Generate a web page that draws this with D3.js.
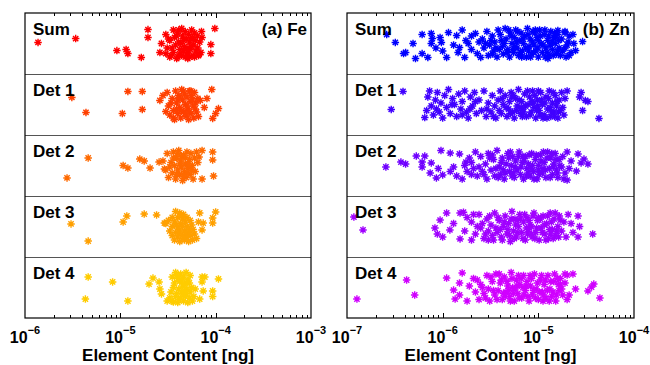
<!DOCTYPE html>
<html>
<head>
<meta charset="utf-8">
<script src="https://cdn.jsdelivr.net/npm/d3@7"></script>
<style>
body{margin:0;background:#fff}
text{font-family:Arial,"Liberation Sans",sans-serif;font-weight:bold;fill:#000}
</style>
</head>
<body>
<svg id="chart" width="650" height="365"></svg>
<script>
// row names, top to bottom
const rows = ["Sum", "Det 1", "Det 2", "Det 3", "Det 4"];
const feColors = ["#ff0000", "#ff4000", "#ff6a00", "#ffa000", "#ffcc00"];
const znColors = ["#0000ff", "#4000ff", "#7000ff", "#a000ff", "#d000ff"];
const feTicks = [1e-6, 1e-5, 1e-4, 1e-3];
const znTicks = [1e-7, 1e-6, 1e-5, 1e-4];

// each point: [content in ng, vertical jitter -1..1]
const feSum = [[1.37e-6,-0.07],[3.4e-6,-0.33],[9.2e-6,0.47],[1.15e-5,0.4],[1.2e-5,0.67],[1.66e-5,0.93],[1.95e-5,-0.93],[1.95e-5,-0.4],[2.6e-5,0.6],[3.0e-5,0.67],[2.7e-5,0.0],[9.8e-5,-1.0],[8.9e-5,0.07],[8.9e-5,0.67],[7.1e-5,-0.8],[7.2e-5,-0.4],[6.7e-5,0.73],
  [3.0e-5,-0.6],[3.3e-5,-0.2],[3.1e-5,0.3],[3.4e-5,0.8],[3.6e-5,-0.9],[3.7e-5,-0.4],[3.8e-5,0.1],[3.6e-5,0.6],[3.9e-5,1.0],[4.0e-5,-0.7],[4.1e-5,-0.1],[4.2e-5,0.4],[4.0e-5,0.9],[4.4e-5,-1.0],[4.5e-5,-0.5],[4.3e-5,0.0],[4.6e-5,0.5],[4.4e-5,0.8],[4.8e-5,-0.8],[4.9e-5,-0.3],[4.7e-5,0.2],[5.0e-5,0.7],[5.1e-5,1.0],[5.2e-5,-0.6],[5.3e-5,-0.1],[5.4e-5,0.4],[5.1e-5,0.6],[5.6e-5,-0.9],[5.7e-5,-0.4],[5.5e-5,0.2],[5.8e-5,0.8],[6.0e-5,-0.7],[6.1e-5,-0.2],[6.2e-5,0.5],[6.0e-5,0.9],[6.4e-5,-0.5],[6.5e-5,0.3],[6.6e-5,0.8],[3.5e-5,0.3],[3.9e-5,-0.5],[4.6e-5,-0.2],[5.0e-5,0.3],[5.5e-5,-0.3],[4.2e-5,0.7],[3.3e-5,0.9],[5.9e-5,0.1],[4.8e-5,0.9],[4.1e-5,-0.9],[5.3e-5,0.9],[3.2e-5,-0.3],[6.8e-5,-0.1],[7.0e-5,0.6]];
const feDet1 = [[3.1e-6,-0.47],[4.36e-6,0.53],[1.05e-5,0.6],[1.2e-5,-0.87],[1.7e-5,-0.87],[1.7e-5,0.33],[2.6e-5,-0.27],[2.8e-5,-0.6],[3.0e-5,0.47],[9.1e-5,-1.0],[8.1e-5,-0.4],[7.6e-5,0.2],[1.07e-4,0.27],[1.0e-4,0.6],[9.3e-5,0.93],[6.9e-5,-0.27],
  [3.1e-5,-0.8],[3.2e-5,0.1],[3.3e-5,0.7],[3.5e-5,-0.4],[3.6e-5,0.4],[3.7e-5,1.0],[3.8e-5,-0.9],[3.9e-5,-0.1],[4.0e-5,0.6],[4.1e-5,-0.6],[4.2e-5,0.2],[4.3e-5,0.9],[4.4e-5,-1.0],[4.5e-5,-0.3],[4.6e-5,0.5],[4.7e-5,-0.7],[4.8e-5,0.0],[4.9e-5,0.8],[5.0e-5,-0.5],[5.1e-5,0.3],[5.2e-5,1.0],[5.3e-5,-0.9],[5.4e-5,-0.2],[5.5e-5,0.6],[5.6e-5,-0.6],[5.8e-5,0.1],[5.9e-5,0.9],[6.0e-5,-0.8],[6.2e-5,-0.1],[6.3e-5,0.5],[6.5e-5,-0.4],[6.6e-5,0.8],[3.4e-5,-0.1],[4.0e-5,-0.3],[4.4e-5,0.4],[5.0e-5,0.1],[5.7e-5,-0.3],[4.6e-5,-0.9],[3.6e-5,0.9],[5.3e-5,0.5],[4.2e-5,-0.5],[6.1e-5,0.3],[4.8e-5,0.6],[3.9e-5,0.3],[5.5e-5,-0.9]];
const feDet2 = [[2.76e-6,0.83],[4.6e-6,-0.5],[1.07e-5,0.0],[1.2e-5,0.17],[1.6e-5,-0.43],[1.78e-5,-0.3],[2.05e-5,0.17],[2.55e-5,-0.23],[2.9e-5,0.23],[7.2e-5,-1.0],[9.3e-5,-0.9],[9.3e-5,-0.37],[9.5e-5,0.7],[7.2e-5,0.9],[6.7e-5,-0.57],
  [2.8e-5,-0.3],[3.0e-5,0.3],[3.1e-5,-0.8],[3.2e-5,0.8],[3.4e-5,-0.2],[3.5e-5,0.5],[3.6e-5,-0.9],[3.7e-5,0.0],[3.8e-5,0.9],[3.9e-5,-0.5],[4.0e-5,0.3],[4.1e-5,-1.0],[4.2e-5,0.6],[4.3e-5,-0.3],[4.4e-5,0.1],[4.5e-5,1.0],[4.6e-5,-0.7],[4.7e-5,0.4],[4.8e-5,-0.1],[4.9e-5,0.8],[5.0e-5,-0.9],[5.1e-5,0.2],[5.3e-5,-0.4],[5.4e-5,0.6],[5.5e-5,-0.8],[5.7e-5,0.0],[5.8e-5,0.9],[6.0e-5,-0.5],[6.1e-5,0.4],[6.3e-5,-0.9],[6.5e-5,-0.2],[3.3e-5,0.1],[3.9e-5,0.6],[4.4e-5,-0.6],[5.0e-5,0.5],[4.2e-5,-0.1],[3.6e-5,-0.5],[5.6e-5,0.3],[4.6e-5,0.7],[4.0e-5,-0.8],[5.2e-5,-0.1],[4.8e-5,-0.5]];
const feDet3 = [[3.04e-6,-0.17],[4.6e-6,0.97],[1.07e-5,-0.3],[1.17e-5,-0.7],[1.78e-5,-0.83],[2.4e-5,-0.77],[1.0e-4,-0.97],[9.3e-5,-0.57],[9.3e-5,-0.23],[7.4e-5,-0.23],[7.2e-5,0.23],[6.8e-5,-0.9],[2.9e-5,-0.23],
  [3.8e-5,-1.0],[4.2e-5,-0.9],[4.6e-5,-0.8],[3.5e-5,-0.6],[4.0e-5,-0.6],[4.5e-5,-0.5],[5.0e-5,-0.6],[3.2e-5,-0.4],[3.7e-5,-0.3],[4.3e-5,-0.2],[4.8e-5,-0.3],[5.4e-5,-0.4],[3.0e-5,-0.2],[3.5e-5,0.0],[4.0e-5,0.1],[4.5e-5,0.0],[5.0e-5,0.0],[5.6e-5,-0.1],[3.3e-5,0.3],[3.8e-5,0.4],[4.2e-5,0.3],[4.7e-5,0.3],[5.2e-5,0.4],[5.8e-5,0.2],[3.5e-5,0.6],[4.0e-5,0.7],[4.5e-5,0.6],[5.0e-5,0.7],[5.5e-5,0.6],[6.0e-5,0.5],[3.7e-5,0.9],[4.2e-5,1.0],[4.7e-5,0.9],[5.2e-5,1.0],[5.7e-5,0.9],[6.3e-5,0.8],[4.4e-5,-0.7],[4.1e-5,0.5],[4.9e-5,0.5],[3.9e-5,-0.1],[4.6e-5,0.8],[5.3e-5,0.2],[6.6e-5,-0.3]];
const feDet4 = [[4.6e-6,-0.7],[4.3e-6,0.77],[8.3e-6,-0.37],[1.2e-5,0.9],[2.0e-5,-0.23],[2.2e-5,-0.63],[2.55e-5,-0.37],[2.6e-5,0.1],[2.7e-5,0.43],[3.1e-5,0.9],[7.2e-5,-0.7],[7.7e-5,-0.7],[7.2e-5,-0.37],[7.4e-5,0.23],[9.3e-5,0.23],[9.3e-5,0.6],[1.07e-4,-0.57],[6.8e-5,0.77],[3.6e-5,0.97],
  [3.8e-5,-1.0],[4.3e-5,-0.9],[4.9e-5,-1.0],[5.4e-5,-0.8],[3.5e-5,-0.7],[4.0e-5,-0.6],[4.6e-5,-0.7],[5.1e-5,-0.5],[3.7e-5,-0.3],[4.2e-5,-0.4],[4.7e-5,-0.2],[5.3e-5,-0.3],[3.6e-5,0.0],[4.1e-5,0.1],[4.5e-5,-0.1],[5.0e-5,0.1],[5.6e-5,0.0],[3.4e-5,0.3],[3.9e-5,0.4],[4.4e-5,0.3],[4.9e-5,0.4],[5.4e-5,0.3],[3.3e-5,0.7],[3.8e-5,0.6],[4.3e-5,0.7],[4.8e-5,0.6],[5.3e-5,0.7],[5.9e-5,0.6],[3.5e-5,0.9],[4.0e-5,1.0],[4.6e-5,0.9],[5.1e-5,1.0],[5.7e-5,0.9],[4.4e-5,-0.5],[4.6e-5,0.5],[4.1e-5,0.8],[5.0e-5,-0.3],[3.9e-5,-0.8],[4.7e-5,0.2],[6.1e-5,0.1]];

const znSum = [[2.6e-7,-0.6],[3.2e-7,-0.07],[3.9e-7,0.67],[4.1e-7,0.6],[4.9e-7,0.0],[5.2e-7,1.0],[6.1e-7,-0.6],[6.1e-7,0.67],[7.0e-7,0.93],[7.6e-7,-0.67],[7.6e-7,0.0],[7.8e-7,-0.33],[9.4e-7,-0.4],[9.7e-7,-0.07],[1.1e-6,0.93],[1.15e-6,-0.73],[1.4e-6,-0.53],[1.45e-6,0.6],[1.5e-6,0.27],[1.75e-6,-0.2],[1.7e-6,0.93],[1.85e-6,0.0],[2.2e-6,-0.67],[2.3e-6,0.67],[2.5e-6,0.93],[1.0e-6,0.5],[1.3e-6,0.1],[1.6e-6,-0.9],[2.0e-6,0.4],[8.5e-7,0.3],
  [2.6e-6,-0.3],[2.7e-6,0.3],[2.9e-6,-0.8],[3.0e-6,0.8],[3.1e-6,0.1],[3.3e-6,-0.5],[3.4e-6,0.5],[3.5e-6,-0.1],[3.7e-6,0.9],[3.8e-6,-0.9],[2.4e-6,-0.1],[3.2e-6,-0.2],[3.6e-6,0.3],
  [4.0e-6,-0.6],[4.2e-6,0.2],[4.3e-6,0.7],[4.5e-6,-1.0],[4.6e-6,-0.3],[4.8e-6,0.4],[5.0e-6,0.9],[5.1e-6,-0.7],[5.3e-6,0.0],[5.5e-6,0.6],[5.6e-6,-0.4],[5.8e-6,-0.9],[6.0e-6,0.3],[6.2e-6,0.8],[6.3e-6,-0.2],[6.6e-6,-0.7],[6.8e-6,0.5],[7.0e-6,0.0],[7.2e-6,-0.5],[7.5e-6,0.9],[7.7e-6,-1.0],[8.0e-6,0.2],[8.2e-6,-0.3],[8.5e-6,0.7],[8.8e-6,-0.8],[9.0e-6,0.1],[9.4e-6,0.5],[9.7e-6,-0.4],[1.0e-5,0.9],[1.03e-5,-0.9],[1.07e-5,0.0],[1.1e-5,0.6],[1.15e-5,-0.6],[1.2e-5,0.3],[1.25e-5,-0.2],[1.3e-5,0.8],[1.35e-5,-0.8],[1.4e-5,0.4],[1.45e-5,-0.4],[1.5e-5,0.0],[1.55e-5,0.7],[1.6e-5,-0.6],[1.65e-5,0.3],[4.4e-6,0.0],[5.9e-6,-0.1],[7.9e-6,0.5],[9.2e-6,-0.7],[1.18e-5,0.9],[1.4e-5,-0.1],
  [4.1e-6,-0.2],[4.7e-6,0.6],[5.2e-6,-0.5],[5.7e-6,0.2],[6.1e-6,-0.8],[6.5e-6,0.6],[6.9e-6,-0.3],[7.4e-6,0.3],[7.8e-6,-0.6],[8.3e-6,0.9],[8.7e-6,-0.1],[9.3e-6,-0.9],[9.9e-6,0.3],[1.05e-5,-0.5],[1.12e-5,0.1],[1.17e-5,-0.9],[1.23e-5,0.6],[1.28e-5,-0.5],[1.33e-5,0.1],[1.43e-5,0.8],[1.48e-5,-0.7],[1.58e-5,0.5],[1.63e-5,-0.2],[5.4e-6,0.4],[6.7e-6,0.9],[8.9e-6,0.6],[1.0e-5,-0.2],[1.26e-5,1.0],[1.52e-5,-0.4],[1.7e-5,0.8],[3.9e-6,0.4],[4.9e-6,-0.9],[2.8e-6,0.0],[3.3e-6,0.7],[2.0e-6,-0.5],
  [1.75e-5,-0.3],[1.8e-5,0.5],[1.9e-5,-0.8],[1.95e-5,0.9],[2.0e-5,0.1],[2.1e-5,-0.5],[2.2e-5,0.6],[2.05e-5,-0.1],[1.9e-5,0.3],[1.6e-5,-0.87],[1.9e-5,-0.73],[2.3e-5,-0.6],[2.35e-5,0.0],[2.45e-5,0.47],[2.9e-5,-0.13],[2.1e-5,0.8]];
const znDet1 = [[3.85e-7,-0.87],[2.9e-7,0.33],[2.8e-5,-0.8],[3.1e-5,-0.27],[3.3e-5,-0.2],[2.9e-5,0.4],[4.3e-5,0.93],[2.7e-5,-0.5],
  [6.5e-7,0.87],[6.8e-7,0.4],[7.0e-7,-0.5],[7.3e-7,-0.9],[7.6e-7,0.1],[8.0e-7,0.7],[8.4e-7,-0.3],[8.8e-7,-0.8],[9.2e-7,0.5],[9.6e-7,-0.1],[1.0e-6,0.9],[1.05e-6,-0.6],[1.1e-6,0.2],[1.15e-6,-1.0],[1.2e-6,0.6],[1.27e-6,-0.4],[1.33e-6,0.0],[1.4e-6,0.8],[1.47e-6,-0.7],[1.55e-6,0.3],[1.6e-6,-0.2],[1.7e-6,-0.9],[1.78e-6,0.5],[1.85e-6,0.9],[1.95e-6,-0.5],[2.05e-6,0.1],[2.15e-6,-0.8],[2.25e-6,0.6],[2.4e-6,-0.3],[2.55e-6,0.4],[2.7e-6,-0.9],[2.85e-6,0.8],[3.0e-6,-0.1],
  [3.2e-6,0.5],[3.3e-6,-0.6],[3.5e-6,0.1],[3.6e-6,0.9],[3.8e-6,-0.3],[4.0e-6,-0.9],[4.1e-6,0.6],[4.3e-6,0.0],[4.5e-6,-0.6],[4.7e-6,0.8],[4.9e-6,0.3],[5.0e-6,-0.2],[5.2e-6,-0.8],[5.4e-6,0.5],[5.6e-6,0.9],[5.8e-6,-0.4],[6.0e-6,0.1],[6.2e-6,-1.0],[6.5e-6,0.6],[6.7e-6,-0.2],[6.9e-6,0.3],[7.2e-6,-0.7],[7.5e-6,0.8],[7.8e-6,0.0],[8.1e-6,-0.5],[8.4e-6,0.5],[8.7e-6,-0.9],[9.0e-6,0.2],[9.4e-6,0.9],[9.8e-6,-0.3],[1.02e-5,0.4],[1.06e-5,-0.8],[1.1e-5,0.0],[1.15e-5,0.7],[1.2e-5,-0.5],[1.25e-5,0.3],[1.3e-5,-0.9],[1.35e-5,0.8],[1.4e-5,-0.1],[1.45e-5,0.5],[1.5e-5,-0.6],[1.55e-5,0.1],[1.6e-5,0.9],[1.65e-5,-0.3],[1.7e-5,0.4],[3.9e-6,0.4],[5.3e-6,-0.5],[7.0e-6,0.5],[8.8e-6,-0.1],[1.12e-5,0.9],
  [4.2e-6,-0.4],[4.6e-6,0.2],[5.1e-6,0.6],[5.5e-6,-0.6],[5.9e-6,0.4],[6.3e-6,-0.3],[6.8e-6,0.8],[7.3e-6,0.1],[7.7e-6,-0.9],[8.2e-6,0.7],[8.6e-6,-0.2],[9.2e-6,-0.6],[9.6e-6,0.4],[1.0e-5,-0.9],[1.04e-5,0.7],[1.08e-5,-0.3],[1.17e-5,-0.1],[1.23e-5,0.9],[1.28e-5,-0.4],[1.33e-5,0.2],[1.43e-5,-0.8],[1.48e-5,0.8],[1.57e-5,-0.2],[1.62e-5,0.5],[3.4e-6,0.8],[2.9e-6,0.3],[2.2e-6,-0.2],[1.6e-6,0.7],[1.25e-6,0.0],[8.6e-7,0.3],[1.93e-6,0.3],[6.6e-6,0.2],[9.9e-6,0.1],[1.38e-5,0.5],
  [1.75e-5,-0.8],[1.8e-5,0.2],[1.9e-5,-0.4],[1.85e-5,0.7],[2.0e-5,-0.9]];
const znDet2 = [[2.55e-7,0.1],[3.66e-7,-0.23],[4.1e-7,-0.1],[5.3e-7,-0.63],[6.1e-7,-0.23],[6.5e-7,-0.63],[6.1e-7,0.1],[7.6e-7,-0.17],[7.4e-7,0.5],[8.6e-7,0.83],[9.6e-7,-1.0],[1.0e-6,0.63],[1.2e-6,-0.83],[1.3e-6,0.1],[1.5e-6,-0.77],[1.75e-6,-0.23],[1.8e-6,0.4],[1.2e-6,0.4],[1.4e-6,0.7],[9.0e-7,0.2],[1.6e-6,0.9],[1.9e-6,-0.5],[2.1e-6,0.2],[2.2e-6,-0.9],[2.3e-6,0.7],
  [2.0e-6,-0.2],[2.5e-6,-0.6],[2.6e-6,0.4],[2.8e-6,-0.1],[2.9e-6,0.9],[3.0e-6,-0.8],[3.2e-6,0.3],[3.4e-6,-0.4],[3.5e-6,0.7],[3.7e-6,-1.0],[3.9e-6,0.1],[4.0e-6,0.6],[4.2e-6,-0.5],[4.4e-6,0.9],[4.6e-6,-0.1],[4.8e-6,-0.8],[5.0e-6,0.4],[5.2e-6,0.0],[5.4e-6,-0.6],[5.6e-6,0.8],[5.8e-6,-0.3],[6.0e-6,0.3],[6.3e-6,-0.9],[6.5e-6,0.6],[6.8e-6,-0.2],[7.0e-6,0.9],[7.3e-6,-0.6],[7.6e-6,0.2],[7.9e-6,-0.1],[8.2e-6,0.7],[8.5e-6,-0.8],[8.9e-6,0.4],[9.3e-6,-0.4],[9.7e-6,0.9],[1.0e-5,0.0],[1.05e-5,-0.7],[1.1e-5,0.5],[1.15e-5,-0.2],[1.2e-5,0.8],[1.25e-5,-0.9],[1.3e-5,0.2],[1.35e-5,-0.5],[1.4e-5,0.6],[1.45e-5,-0.1],[1.5e-5,-0.8],[1.55e-5,0.3],[1.6e-5,0.8],[1.65e-5,-0.4],[4.3e-6,0.3],[5.5e-6,0.5],[6.9e-6,-0.6],[8.7e-6,0.0],[3.3e-6,-0.7],[1.12e-5,0.2],
  [2.7e-6,0.6],[3.1e-6,-0.5],[3.6e-6,0.2],[3.8e-6,0.8],[4.1e-6,-0.2],[4.5e-6,0.5],[4.9e-6,-0.5],[5.3e-6,0.7],[5.7e-6,0.1],[6.2e-6,-0.6],[6.6e-6,0.1],[7.1e-6,-0.3],[7.5e-6,0.7],[8.0e-6,-0.7],[8.4e-6,0.2],[9.0e-6,0.9],[9.5e-6,-0.7],[1.02e-5,0.6],[1.07e-5,-0.3],[1.13e-5,-0.9],[1.18e-5,0.3],[1.23e-5,-0.5],[1.33e-5,0.8],[1.38e-5,-0.8],[1.43e-5,0.1],[1.53e-5,-0.4],[1.58e-5,0.5],[1.68e-5,0.0],[2.4e-6,0.1],[2.0e-6,0.6],[1.7e-6,0.0],[5.1e-6,-0.9],[7.8e-6,0.5],[1.0e-5,0.3],
  [1.75e-5,0.1],[1.8e-5,-0.6],[1.9e-5,0.5],[2.0e-5,-0.9],[2.1e-5,0.2],[1.85e-5,0.9],[2.2e-5,-0.3],[2.6e-5,-0.77],[3.0e-5,-0.43],[3.3e-5,-0.1],[2.8e-5,-0.17],[2.5e-5,0.37],[2.0e-5,0.97]];
const znDet3 = [[1.18e-7,-0.63],[1.47e-7,0.23],[8.3e-7,0.1],[9.4e-7,-0.43],[1.1e-6,-0.9],[1.19e-6,0.23],[1.52e-6,0.83],[1.52e-6,-0.9],[8.8e-7,0.5],[1.0e-6,0.7],[1.3e-6,-0.2],[1.7e-6,0.3],[1.8e-6,-0.6],[1.65e-6,-0.95],[2.0e-6,0.9],
  [2.0e-6,-0.3],[2.2e-6,0.5],[2.4e-6,-0.8],[2.5e-6,0.1],[2.7e-6,0.8],[2.9e-6,-0.5],[3.0e-6,0.3],[3.2e-6,-0.1],[3.4e-6,0.9],[3.5e-6,-0.9],[3.7e-6,0.4],[3.9e-6,-0.4],[4.1e-6,0.7],[4.3e-6,0.0],[4.5e-6,-0.7],[4.7e-6,0.5],[4.9e-6,-0.2],[5.1e-6,1.0],[5.3e-6,-1.0],[5.5e-6,0.3],[5.7e-6,-0.5],[5.9e-6,0.7],[6.2e-6,0.0],[6.4e-6,-0.8],[6.7e-6,0.4],[7.0e-6,-0.3],[7.3e-6,0.9],[7.6e-6,-0.6],[7.9e-6,0.2],[8.2e-6,-0.1],[8.6e-6,0.7],[9.0e-6,-0.9],[9.4e-6,0.4],[9.8e-6,-0.4],[1.02e-5,0.9],[1.07e-5,0.1],[1.12e-5,-0.7],[1.17e-5,0.5],[1.22e-5,-0.2],[1.28e-5,0.8],[1.33e-5,-0.9],[1.4e-5,0.2],[1.46e-5,-0.5],[1.52e-5,0.6],[1.6e-5,0.0],[1.66e-5,-0.7],[4.0e-6,0.2],[5.0e-6,0.6],[6.0e-6,-0.4],[7.5e-6,0.1],[8.5e-6,0.5],[1.05e-5,-0.5],[3.3e-6,0.6],[2.6e-6,-0.2],[1.35e-5,0.5],
  [2.3e-6,0.0],[2.8e-6,0.5],[3.1e-6,-0.7],[3.6e-6,0.1],[3.8e-6,-0.6],[4.2e-6,0.9],[4.4e-6,-0.3],[4.8e-6,0.2],[5.2e-6,-0.5],[5.6e-6,0.8],[5.8e-6,-0.1],[6.1e-6,0.4],[6.5e-6,-0.5],[6.9e-6,0.8],[7.2e-6,-0.8],[7.7e-6,0.5],[8.0e-6,-0.4],[8.4e-6,0.0],[8.8e-6,-0.7],[9.2e-6,0.8],[9.6e-6,0.1],[1.0e-5,-0.6],[1.1e-5,0.4],[1.15e-5,-0.1],[1.2e-5,0.9],[1.25e-5,-0.7],[1.31e-5,0.2],[1.37e-5,-0.3],[1.43e-5,0.8],[1.5e-5,-0.9],[1.56e-5,0.3],[1.63e-5,0.7],[2.1e-6,-0.8],[3.0e-6,0.9],
  [1.75e-5,0.3],[1.85e-5,-0.3],[1.95e-5,0.7],[2.05e-5,-0.8],[1.69e-5,-0.43],[2.2e-5,-0.2],[2.7e-5,0.0],[2.6e-5,-0.7],[2.6e-5,0.7],[3.7e-5,0.5],[2.3e-5,0.4]];
const znDet4 = [[1.27e-7,0.77],[4.2e-7,-0.5],[5.1e-7,0.5],[1.1e-6,-0.63],[1.3e-6,0.17],[1.35e-6,0.77],[1.5e-6,-0.3],[1.6e-6,-0.97],[1.5e-6,0.5],[1.8e-6,0.9],[1.9e-6,-0.1],[2.1e-6,-0.6],[2.2e-6,0.3],
  [2.4e-6,0.8],[2.5e-6,-0.2],[2.7e-6,0.4],[2.9e-6,-0.8],[3.0e-6,0.1],[3.1e-6,0.9],[3.3e-6,-0.4],[3.5e-6,0.5],[3.6e-6,-0.9],[3.8e-6,0.2],[4.0e-6,-0.3],[4.2e-6,0.8],[4.4e-6,-0.7],[4.6e-6,0.3],[4.8e-6,-0.1],[5.0e-6,0.6],[5.2e-6,-1.0],[5.4e-6,0.0],[5.6e-6,0.9],[5.9e-6,-0.5],[6.1e-6,0.4],[6.4e-6,-0.2],[6.7e-6,0.7],[7.0e-6,-0.8],[7.3e-6,0.2],[7.6e-6,-0.4],[8.0e-6,0.9],[8.3e-6,-0.1],[8.7e-6,0.5],[9.1e-6,-0.9],[9.5e-6,0.1],[1.0e-5,0.8],[1.05e-5,-0.5],[1.1e-5,0.3],[1.15e-5,-0.2],[1.2e-5,0.7],[1.26e-5,-0.8],[1.32e-5,0.1],[1.38e-5,0.6],[1.45e-5,-0.4],[1.52e-5,0.9],[1.58e-5,-0.6],[1.65e-5,0.2],[4.3e-6,0.4],[5.5e-6,0.4],[6.9e-6,0.0],[8.5e-6,-0.6],[3.9e-6,-0.9],[1.12e-5,0.9],[6.2e-6,-0.8],
  [2.6e-6,0.0],[2.8e-6,0.7],[3.2e-6,-0.7],[3.4e-6,0.2],[3.7e-6,0.8],[4.1e-6,-0.5],[4.5e-6,0.6],[4.7e-6,-0.4],[4.9e-6,0.2],[5.1e-6,0.9],[5.3e-6,-0.6],[5.7e-6,0.1],[6.0e-6,-0.1],[6.3e-6,0.7],[6.6e-6,-0.6],[7.1e-6,0.5],[7.5e-6,-0.1],[7.8e-6,0.6],[8.2e-6,-0.8],[8.9e-6,0.2],[9.3e-6,0.7],[9.8e-6,-0.3],[1.02e-5,0.3],[1.08e-5,-0.8],[1.13e-5,0.5],[1.18e-5,-0.5],[1.24e-5,0.2],[1.3e-5,0.9],[1.35e-5,-0.4],[1.42e-5,0.3],[1.48e-5,-0.9],[1.55e-5,0.5],[1.62e-5,-0.2],[2.3e-6,-0.5],
  [1.7e-5,-0.6],[1.8e-5,0.5],[1.9e-5,-0.3],[2.0e-5,0.8],[1.75e-5,0.1],[1.9e-5,-0.9],[2.0e-5,-0.83],[1.7e-5,-0.23],[2.45e-5,0.1],[2.1e-5,0.5],[3.3e-5,0.23],[3.6e-5,-0.03],[3.8e-5,-0.23],[4.4e-5,0.7],[2.3e-5,-0.9]];

const panels = [
  {tag: "(a) Fe", ticks: feTicks, colors: feColors, series: [feSum, feDet1, feDet2, feDet3, feDet4], left: 25, right: 311},
  {tag: "(b) Zn", ticks: znTicks, colors: znColors, series: [znSum, znDet1, znDet2, znDet3, znDet4], left: 347, right: 634}
];

const plotTop = 13, plotBottom = 318;
const svg = d3.select("#chart");

// MATLAB-like '*' marker: plus + cross
const asterisk = {
  draw(ctx, size) {
    const r = Math.sqrt(size) / 2, d = r * 0.7071;
    ctx.moveTo(-r, 0); ctx.lineTo(r, 0);
    ctx.moveTo(0, -r); ctx.lineTo(0, r);
    ctx.moveTo(-d, -d); ctx.lineTo(d, d);
    ctx.moveTo(-d, d); ctx.lineTo(d, -d);
  }
};
const marker = d3.symbol(asterisk, 56)();

panels.forEach(p => {
  const lo = p.ticks[0], hi = p.ticks[p.ticks.length - 1];
  const x = d3.scaleLog().domain([lo, hi]).range([p.left, p.right]);
  const y = d3.scaleBand().domain(rows).range([plotTop, plotBottom]);
  const jit = d3.scaleLinear().domain([-1, 1]).range([-15, 15]);
  const g = svg.append("g");

  // points
  rows.forEach((r, i) => {
    g.append("g").selectAll("path")
      .data(p.series[i])
      .enter().append("path")
      .attr("d", marker)
      .attr("transform", d => `translate(${x(d[0])},${y(r) + y.bandwidth() / 2 + jit(d[1])})`)
      .attr("fill", "none")
      .attr("stroke", p.colors[i])
      .attr("stroke-width", 1.4);
  });

  // row separators
  g.selectAll(".sep")
    .data(rows.slice(1))
    .enter().append("line")
    .attr("x1", p.left).attr("x2", p.right)
    .attr("y1", d => Math.round(y(d)) + 0.5).attr("y2", d => Math.round(y(d)) + 0.5)
    .attr("stroke", "#555").attr("stroke-width", 1);

  // ticks, inside top and bottom
  x.ticks().filter(t => t > lo && t < hi).forEach(t => {
    const lg = Math.log10(t);
    const len = Math.abs(lg - Math.round(lg)) < 1e-9 ? 5 : 3;
    const xx = Math.round(x(t)) + 0.5;
    g.append("line").attr("x1", xx).attr("x2", xx).attr("y1", plotBottom).attr("y2", plotBottom - len).attr("stroke", "#000");
    g.append("line").attr("x1", xx).attr("x2", xx).attr("y1", plotTop).attr("y2", plotTop + len).attr("stroke", "#000");
  });

  // frame
  g.append("rect")
    .attr("x", p.left).attr("y", plotTop)
    .attr("width", p.right - p.left).attr("height", plotBottom - plotTop)
    .attr("fill", "none").attr("stroke", "#000").attr("stroke-width", 1.2);

  // tick labels 10^n
  p.ticks.forEach(t => {
    const e = Math.round(Math.log10(t));
    const txt = g.append("text")
      .attr("x", x(t)).attr("y", 343)
      .attr("text-anchor", "middle")
      .style("font-size", "16px");
    txt.append("tspan").text("10");
    txt.append("tspan").attr("dy", -9).style("font-size", "11px").text("\u2212" + Math.abs(e));
  });

  // axis title
  g.append("text")
    .attr("x", (p.left + p.right) / 2).attr("y", 361)
    .attr("text-anchor", "middle")
    .style("font-size", "17px")
    .text("Element Content [ng]");

  // row labels
  rows.forEach(r => {
    g.append("text")
      .attr("x", p.left + 8).attr("y", y(r) + 22)
      .style("font-size", "17px")
      .text(r);
  });

  g.append("text")
    .attr("x", p.right - 4).attr("y", plotTop + 22)
    .attr("text-anchor", "end")
    .style("font-size", "17px")
    .text(p.tag);
});
</script>
</body>
</html>
